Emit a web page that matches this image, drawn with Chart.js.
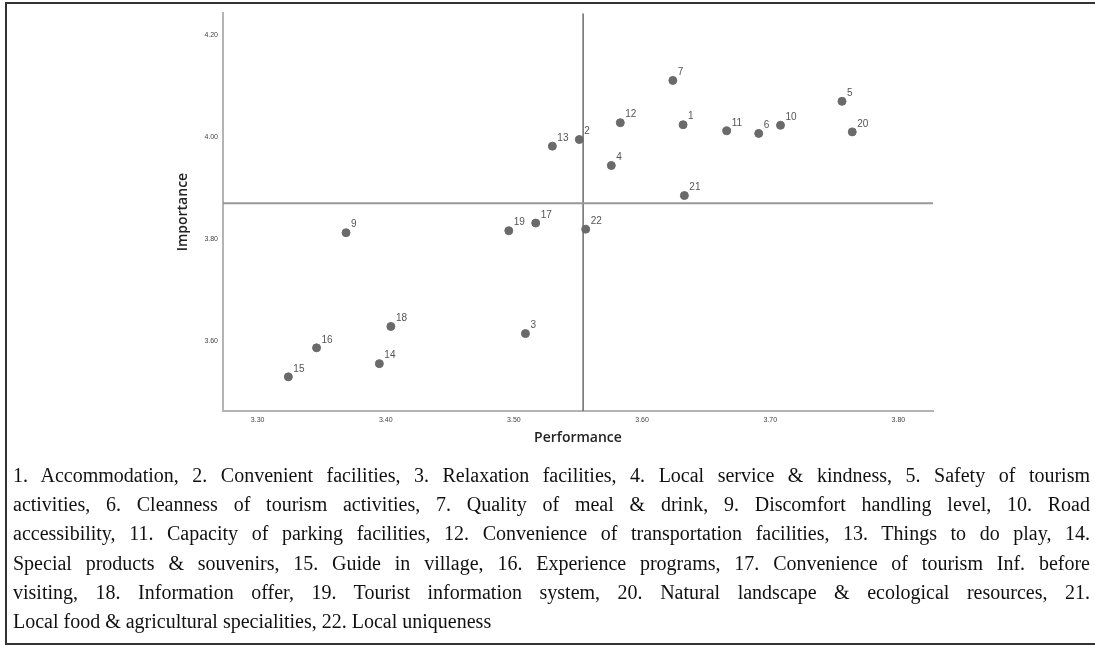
<!DOCTYPE html>
<html>
<head>
<meta charset="utf-8">
<script src="https://cdn.jsdelivr.net/npm/chart.js@4.4.1/dist/chart.umd.min.js"></script>
<style>
  body { margin: 0; background: #fff; }
  #frame {
    position: absolute; left: 5px; top: 2px; width: 1090px; height: 639px;
    border-top: 2px solid #333; border-left: 2px solid #333; border-bottom: 2px solid #333;
  }
  #wrap { position: absolute; left: 0; top: 0; width: 1088px; height: 460px; }
  #caption {
    position: absolute; left: 6px; top: 457px; width: 1077px;
    font-family: "Liberation Serif", serif; font-size: 20px; line-height: 29.2px; color: #111;
  }
  #caption div { text-align: justify; text-align-last: justify; }
  #caption div.last { text-align-last: left; }
</style>
</head>
<body>
<div id="frame">
  <div id="wrap"><canvas id="chart"></canvas></div>
  <div id="caption">
    <div>1. Accommodation, 2. Convenient facilities, 3. Relaxation facilities, 4. Local service &amp; kindness, 5. Safety of tourism</div>
    <div>activities, 6. Cleanness of tourism activities, 7. Quality of meal &amp; drink, 9. Discomfort handling level, 10. Road</div>
    <div>accessibility, 11. Capacity of parking facilities, 12. Convenience of transportation facilities, 13. Things to do play, 14.</div>
    <div>Special products &amp; souvenirs, 15. Guide in village, 16. Experience programs, 17. Convenience of tourism Inf. before</div>
    <div>visiting, 18. Information offer, 19. Tourist information system, 20. Natural landscape &amp; ecological resources, 21.</div>
    <div class="last">Local food &amp; agricultural specialities, 22. Local uniqueness</div>
  </div>
</div>
<script>
// DATI
const itemNo      = [1, 2, 3, 4, 5, 6, 7, 9, 10, 11, 12, 13, 14, 15, 16, 17, 18, 19, 20, 21, 22];
const performance = [3.632, 3.551, 3.509, 3.576, 3.756, 3.691, 3.624, 3.369, 3.708, 3.666, 3.583,
                     3.530, 3.395, 3.324, 3.346, 3.517, 3.404, 3.496, 3.764, 3.633, 3.556];
const importance  = [4.024, 3.995, 3.614, 3.944, 4.070, 4.007, 4.111, 3.812, 4.023, 4.012, 4.028,
                     3.982, 3.555, 3.529, 3.586, 3.831, 3.628, 3.816, 4.010, 3.885, 3.819];

const xTicks = [3.30, 3.40, 3.50, 3.60, 3.70, 3.80];
const yTicks = [3.60, 3.80, 4.00, 4.20];
const xMin = 3.273, xMax = 3.827;
const yMin = 3.462, yMax = 4.243;

// linee di riferimento (medie)
const meanPerformance = 3.554;
const meanImportance = 3.870;

const points = itemNo.map((n, i) => ({ x: performance[i], y: importance[i] }));

// etichette dei punti
const pointLabels = {
    id: 'pointLabels',
    afterDatasetsDraw(chart) {
        const ctx = chart.ctx;
        const meta = chart.getDatasetMeta(2);
        ctx.save();
        ctx.font = '10px "Liberation Sans", Arial, sans-serif';
        ctx.fillStyle = '#555';
        ctx.textAlign = 'left';
        ctx.textBaseline = 'middle';
        meta.data.forEach((el, i) => {
            ctx.fillText(String(itemNo[i]), el.x + 5, el.y - 8);
        });
        ctx.restore();
    }
};

const tickFont = { family: '"Liberation Sans", Arial, sans-serif', size: 7 };
const titleFont = { family: '"Open Sans", sans-serif', size: 14, weight: '600', lineHeight: 1.2 };

new Chart(document.getElementById('chart'), {
    type: 'scatter',
    data: {
        datasets: [
            {
                type: 'line',
                data: [{ x: xMin, y: meanImportance }, { x: xMax, y: meanImportance }],
                borderColor: '#999',
                borderWidth: 2,
                pointRadius: 0,
                order: 2
            },
            {
                type: 'line',
                data: [{ x: meanPerformance, y: yMin }, { x: meanPerformance, y: yMax }],
                borderColor: '#6b6b6b',
                borderWidth: 1.5,
                pointRadius: 0,
                order: 2
            },
            {
                data: points,
                backgroundColor: '#6a6a6a',
                borderColor: '#6a6a6a',
                pointRadius: 4,
                order: 1
            }
        ]
    },
    options: {
        responsive: true,
        maintainAspectRatio: false,
        animation: false,
        layout: { padding: { left: 160, top: 5, right: 162, bottom: 0 } },
        plugins: { legend: { display: false }, tooltip: { enabled: false } },
        scales: {
            x: {
                type: 'linear',
                min: xMin, max: xMax,
                afterBuildTicks: s => { s.ticks = xTicks.map(v => ({ value: v })); },
                afterFit: s => { s.height = 53; },
                grid: { display: false, drawTicks: false },
                border: { display: true, color: '#b3b3b3', width: 2 },
                ticks: { font: tickFont, color: '#444', padding: 5, maxRotation: 0,
                         callback: v => v.toFixed(2) },
                title: { display: true, text: 'Performance', font: titleFont, color: '#222',
                         padding: { top: 0, bottom: 17.6 } }
            },
            y: {
                type: 'linear',
                min: yMin, max: yMax,
                afterBuildTicks: s => { s.ticks = yTicks.map(v => ({ value: v })); },
                afterFit: s => { s.width = 56; },
                grid: { display: false, drawTicks: false },
                border: { display: true, color: '#b3b3b3', width: 2 },
                ticks: { font: tickFont, color: '#444', padding: 5,
                         callback: v => v.toFixed(2) },
                title: { display: true, text: 'Importance', font: titleFont, color: '#222',
                         padding: { top: 7.6, bottom: 0 } }
            }
        }
    },
    plugins: [pointLabels]
});
</script>
</body>
</html>
